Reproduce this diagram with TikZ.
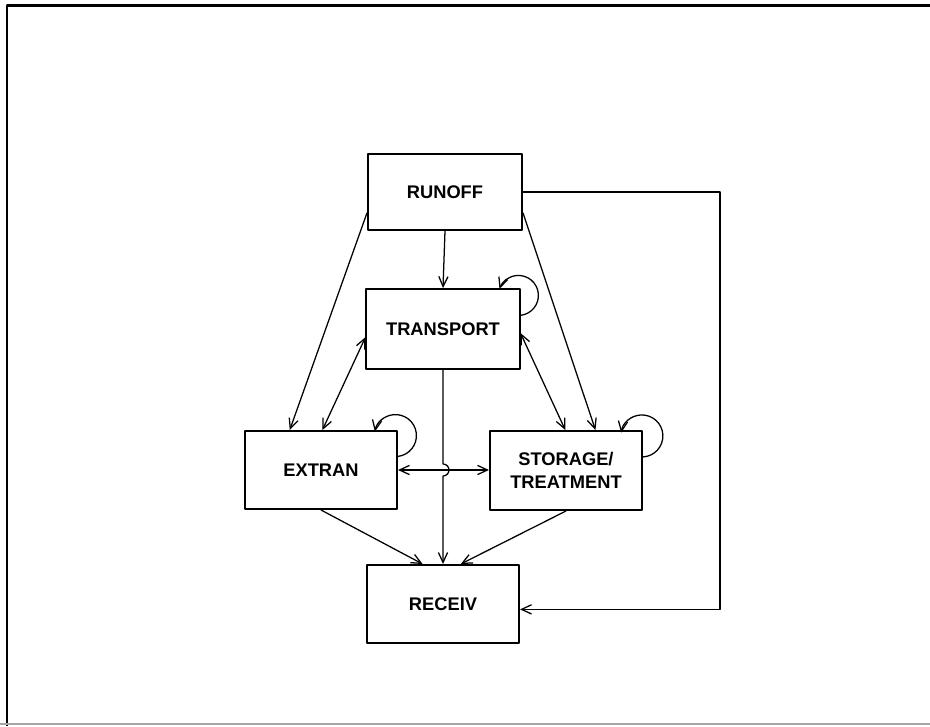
\documentclass[tikz,border=0pt]{standalone}
\usepackage{fontspec}
\setmainfont{Liberation Sans}
\usetikzlibrary{arrows.meta}

\tikzset{
  modbox/.style={draw,line width=1.4pt,inner sep=0pt,minimum width=3.8cm,
    minimum height=1.95cm,align=center,font=\fontsize{13}{16.5}\selectfont\bfseries},
  flow/.style={line width=0.9pt},
}

\begin{document}
\begin{tikzpicture}[line join=round,>={Straight Barb[length=2.5mm,width=2.3mm]},x=0.025cm,y=0.025cm]
              \useasboundingbox (0,0) rectangle (930,726);
              % frame
              \draw[line width=1.5pt] (7,0) -- (7,720.5) -- (930,720.5);
              \draw[line width=1.5pt,color=black!35] (0,2) -- (930,2);

              % modules
              \node[modbox,minimum width=3.85cm,minimum height=1.9cm] (runoff) at (445,534) {RUNOFF};
              \node[modbox,minimum width=3.825cm,minimum height=2cm] (transport) at (443,397) {TRANSPORT};
              \node[modbox] (extran) at (321,256) {EXTRAN};
              \node[modbox,minimum height=1.975cm] (storage) at (566,255.5) {STORAGE/\\TREATMENT};
              \node[modbox] (receiv) at (443,122) {RECEIV};
              \coordinate (rside) at (720,0);

              % links
              \draw[flow,->] (runoff.south) -- (transport.north);
              \draw[flow,->] (runoff.195) -- (extran.128);
              \draw[flow,->] (runoff.-15) -- (storage.54);
              \draw[flow,<->] (transport.186) -- (extran.88);
              \draw[flow,<->] (transport.-3) -- (storage.91);
              \draw[flow,<->] (extran.east) -- (extran.east -| storage.west);
              \draw[flow,->] (transport.south) -- ([yshift=0.15cm]transport.south |- extran.east)
                    arc[start angle=90,end angle=-90,radius=6] -- (receiv.north);
              \draw[flow,->] (extran.south) -- (receiv.117);
              \draw[flow,->] (storage.south) -- (receiv.66);
              \draw[flow,->] (runoff.east) -- (runoff.east -| rside) |- (receiv.-4);

              % self loops
              \draw[flow,->] (transport.10) arc[start angle=-84,end angle=161,radius=20];
              \draw[flow,->] (extran.10) arc[start angle=-83,end angle=169,radius=21];
              \draw[flow,->] (storage.10) arc[start angle=-87,end angle=171,radius=21];

             \end{tikzpicture}
\end{document}
